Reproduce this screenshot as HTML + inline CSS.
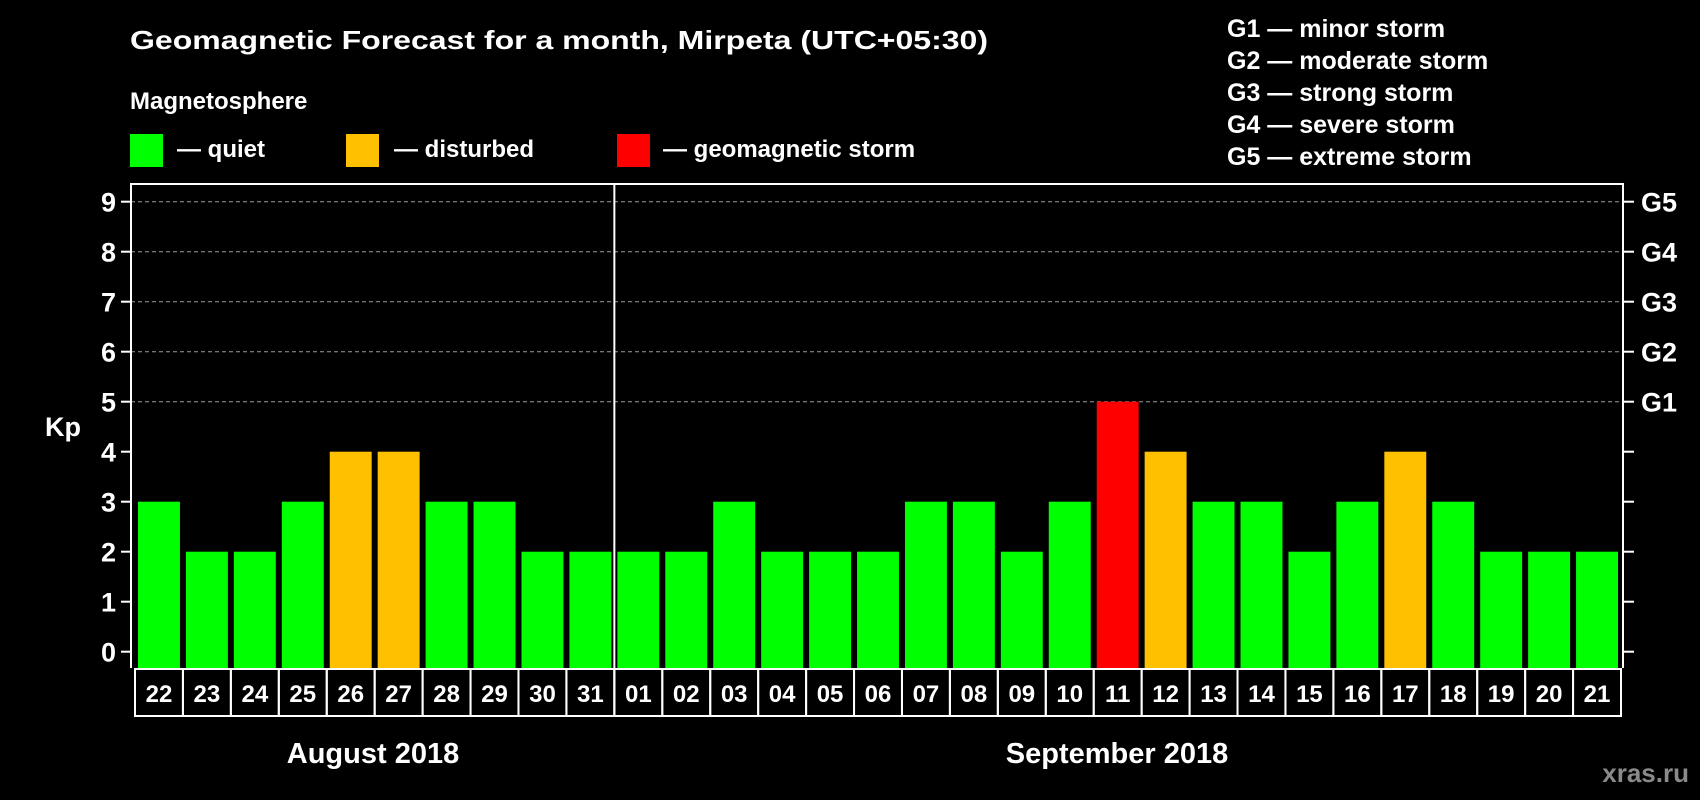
<!DOCTYPE html>
<html><head><meta charset="utf-8"><style>
html,body{margin:0;padding:0;background:#000;}
svg{display:block;font-family:"Liberation Sans",Arial,sans-serif;font-weight:bold;}
</style></head><body>
<svg id="chart" width="1700" height="800" viewBox="0 0 1700 800" xmlns="http://www.w3.org/2000/svg">
<rect width="1700" height="800" fill="#000"/>
<text x="130" y="49" fill="#fff" font-size="26" textLength="858" lengthAdjust="spacingAndGlyphs">Geomagnetic Forecast for a month, Mirpeta (UTC+05:30)</text>
<text x="130" y="109" fill="#fff" font-size="24">Magnetosphere</text>
<g>
<rect x="130" y="134" width="33" height="33" fill="#00ff00"/>
<text x="177" y="157" fill="#fff" font-size="24">— quiet</text>
<rect x="346" y="134" width="33" height="33" fill="#ffc000"/>
<text x="394" y="157" fill="#fff" font-size="24">— disturbed</text>
<rect x="617" y="134" width="33" height="33" fill="#ff0000"/>
<text x="663" y="157" fill="#fff" font-size="24">— geomagnetic storm</text>
</g>
<g fill="#fff" font-size="25">
<text x="1227" y="37">G1 — minor storm</text>
<text x="1227" y="69">G2 — moderate storm</text>
<text x="1227" y="101">G3 — strong storm</text>
<text x="1227" y="133">G4 — severe storm</text>
<text x="1227" y="165">G5 — extreme storm</text>
</g>
<text x="63" y="436" fill="#fff" font-size="27" text-anchor="middle">Kp</text>
<text x="373" y="763" fill="#fff" font-size="29" text-anchor="middle">August 2018</text>
<text x="1117" y="763" fill="#fff" font-size="29" text-anchor="middle">September 2018</text>
<text x="1689" y="782" fill="#8a8a8a" font-size="26" text-anchor="end">xras.ru</text>
<g id="plot"></g>
</svg>
<script>
const days = ["22","23","24","25","26","27","28","29","30","31","01","02","03","04","05","06","07","08","09","10","11","12","13","14","15","16","17","18","19","20","21"];
const kpValues = [3,2,2,3,4,4,3,3,2,2,2,2,3,2,2,2,3,3,2,3,5,4,3,3,2,3,4,3,2,2,2];
const yTicks = [0,1,2,3,4,5,6,7,8,9];
const gridLevels = [5,6,7,8,9];
const gLabels = ["G1","G2","G3","G4","G5"];
const gLevels = [5,6,7,8,9];
const monthBreakIndex = 10;

const NS = "http://www.w3.org/2000/svg";
const plot = document.getElementById('plot');
const L = 131, R = 1623, T = 184, B = 668, boxL = 135, boxB = 716;
const step = (1621 - boxL) / days.length;
function y(v){ return 651.7 - 50 * v; }
function xBox(i){ return boxL + i * step; }
function mk(tag, attrs){ const e = document.createElementNS(NS, tag); for (const k in attrs) e.setAttribute(k, attrs[k]); plot.appendChild(e); return e; }
function color(v){ return v >= 5 ? "#ff0000" : (v >= 4 ? "#ffc000" : "#00ff00"); }

gridLevels.forEach(v => {
  const g = mk('line', {x1:L, x2:R, y1:y(v), y2:y(v), stroke:"#9a9a9a", "stroke-width":1, "stroke-dasharray":"4,3"});
  
  
});
yTicks.forEach(v => {
  const t = mk('line', {x1:121, x2:L, y1:y(v), y2:y(v), stroke:"#fff", "stroke-width":2});
  
  
  const t2 = mk('line', {x1:R, x2:R+11, y1:y(v), y2:y(v), stroke:"#fff", "stroke-width":2});
  
  
  const lb = mk('text', {x:116, y:y(v)+10, fill:"#fff", "font-size":27, "text-anchor":"end"});
  lb.textContent = v;
  
  
});
gLevels.forEach((v, i) => {
  const lb = mk('text', {x:1641, y:y(v)+10, fill:"#fff", "font-size":27});
  lb.textContent = gLabels[i];
  
  
});
kpValues.forEach((v, i) => {
  const x0 = xBox(i);
  const b = mk('rect', {x:x0+3, y:y(v), width:step-6, height:B-y(v), fill:color(v)});
  
  
  const bx = mk('rect', {x:x0, y:B+1, width:step, height:boxB-B-1, fill:"none", stroke:"#fff", "stroke-width":2});
  
  
  const tx = mk('text', {x:x0+step/2, y:702, fill:"#fff", "font-size":24, "text-anchor":"middle"});
  tx.textContent = days[i];
  
  
});
const frame = mk('path', {d:`M${L},${B} V${T} H${R} V${B}`, fill:"none", stroke:"#fff", "stroke-width":2});


const sep = mk('line', {x1:xBox(monthBreakIndex), x2:xBox(monthBreakIndex), y1:T, y2:boxB, stroke:"#fff", "stroke-width":2});


</script>
</body></html>
